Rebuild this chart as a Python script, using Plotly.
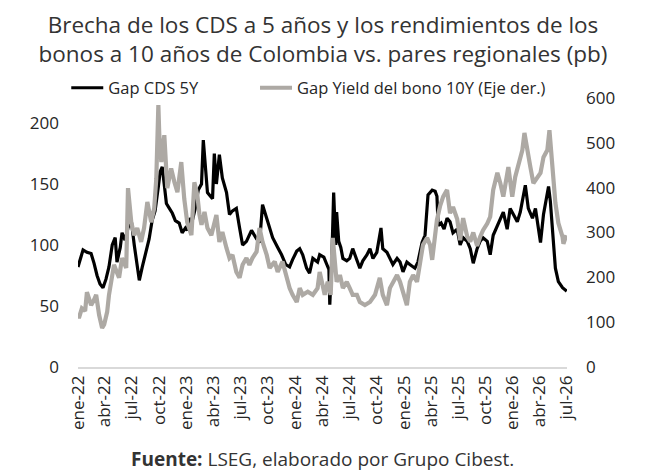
import plotly.graph_objects as go

cds_dates = ["2022-01-01","2022-01-08","2022-01-18","2022-01-31","2022-02-14","2022-02-24","2022-03-06","2022-03-16","2022-03-26","2022-04-05","2022-04-15","2022-04-26","2022-05-06","2022-05-12","2022-05-23","2022-05-29","2022-06-08","2022-06-18","2022-06-29","2022-07-09","2022-07-19","2022-07-26","2022-08-05","2022-08-18","2022-08-28","2022-09-07","2022-09-17","2022-09-28","2022-10-04","2022-10-11","2022-10-18","2022-10-25","2022-11-04","2022-11-14","2022-11-24","2022-12-07","2022-12-17","2022-12-28","2023-01-03","2023-01-13","2023-01-20","2023-01-30","2023-02-09","2023-02-20","2023-02-26","2023-03-05","2023-03-12","2023-03-22","2023-03-29","2023-04-04","2023-04-11","2023-04-21","2023-05-01","2023-05-15","2023-05-25","2023-06-04","2023-06-17","2023-06-28","2023-07-08","2023-07-21","2023-08-07","2023-08-24","2023-09-03","2023-09-13","2023-09-27","2023-10-07","2023-10-17","2023-11-03","2023-11-16","2023-11-30","2023-12-13","2023-12-23","2024-01-06","2024-01-16","2024-01-26","2024-02-08","2024-02-18","2024-02-29","2024-03-16","2024-03-23","2024-04-06","2024-04-16","2024-04-23","2024-04-26","2024-05-03","2024-05-09","2024-05-16","2024-05-19","2024-05-26","2024-06-02","2024-06-09","2024-06-22","2024-07-02","2024-07-12","2024-07-26","2024-08-05","2024-08-15","2024-08-29","2024-09-08","2024-09-18","2024-10-01","2024-10-15","2024-10-21","2024-11-04","2024-11-14","2024-11-24","2024-12-08","2024-12-18","2024-12-28","2025-01-10","2025-01-20","2025-02-06","2025-02-16","2025-03-02","2025-03-12","2025-03-22","2025-04-05","2025-04-15","2025-04-21","2025-04-25","2025-05-05","2025-05-15","2025-05-25","2025-06-04","2025-06-14","2025-06-28","2025-07-08","2025-07-18","2025-08-01","2025-08-11","2025-08-21","2025-09-03","2025-09-13","2025-09-23","2025-10-07","2025-10-17","2025-10-27","2025-11-10","2025-11-20","2025-11-30","2025-12-13","2025-12-23","2026-01-03","2026-01-16","2026-01-26","2026-02-12","2026-02-22","2026-03-08","2026-03-18","2026-04-04","2026-04-14","2026-05-01","2026-05-07","2026-05-17","2026-05-24","2026-06-03","2026-06-17","2026-06-27","2026-06-30"]
cds_vals = [82,88,96,94,93,85,75,68,65,72,82,100,106,86,98,110,104,114,120,100,85,71,82,96,105,120,128,148,160,164,150,134,130,126,120,118,110,114,112,122,120,130,145,150,186,168,143,140,138,175,150,174,155,143,125,128,130,114,100,103,112,105,102,133,122,114,106,98,92,84,82,88,95,97,92,81,77,89,86,92,90,84,80,51,90,143,100,127,103,98,89,87,89,97,87,81,87,92,97,89,94,114,97,94,89,84,89,86,78,86,84,81,86,102,108,141,145,144,140,116,118,113,122,119,110,113,100,106,103,97,85,97,103,106,103,92,108,116,122,127,113,130,125,119,127,149,130,122,130,102,125,148,136,102,81,70,65,63,64]

yld_dates = ["2022-01-01","2022-01-04","2022-01-14","2022-01-25","2022-01-31","2022-02-07","2022-02-14","2022-02-24","2022-03-03","2022-03-13","2022-03-23","2022-03-30","2022-04-09","2022-04-15","2022-04-22","2022-05-02","2022-05-12","2022-05-19","2022-05-29","2022-06-12","2022-06-18","2022-06-29","2022-07-09","2022-07-19","2022-08-01","2022-08-11","2022-08-22","2022-09-04","2022-09-14","2022-09-21","2022-09-28","2022-10-01","2022-10-08","2022-10-18","2022-10-28","2022-11-10","2022-11-21","2022-12-01","2022-12-14","2022-12-24","2023-01-03","2023-01-17","2023-01-27","2023-02-06","2023-02-13","2023-02-20","2023-03-02","2023-03-12","2023-03-25","2023-04-11","2023-04-21","2023-05-01","2023-05-15","2023-05-25","2023-06-04","2023-06-17","2023-06-28","2023-07-08","2023-07-21","2023-07-31","2023-08-10","2023-08-24","2023-09-03","2023-09-13","2023-09-27","2023-10-07","2023-10-24","2023-11-03","2023-11-19","2023-12-03","2023-12-13","2023-12-23","2024-01-06","2024-01-16","2024-01-26","2024-02-12","2024-02-29","2024-03-16","2024-03-23","2024-04-09","2024-04-19","2024-04-29","2024-05-06","2024-05-19","2024-05-30","2024-06-09","2024-06-22","2024-07-02","2024-07-12","2024-07-26","2024-08-05","2024-08-22","2024-09-08","2024-09-25","2024-10-11","2024-10-21","2024-11-04","2024-11-14","2024-11-24","2024-12-08","2024-12-18","2024-12-28","2025-01-10","2025-01-20","2025-01-31","2025-02-13","2025-02-23","2025-03-05","2025-03-19","2025-03-29","2025-04-05","2025-04-21","2025-05-02","2025-05-12","2025-05-25","2025-06-04","2025-06-14","2025-06-28","2025-07-08","2025-07-18","2025-08-01","2025-08-11","2025-08-21","2025-09-03","2025-09-13","2025-09-23","2025-10-07","2025-10-17","2025-10-27","2025-11-10","2025-11-20","2025-11-30","2025-12-17","2025-12-30","2026-01-09","2026-01-19","2026-02-02","2026-02-09","2026-02-19","2026-03-01","2026-03-11","2026-03-24","2026-04-04","2026-04-14","2026-04-27","2026-05-04","2026-05-14","2026-05-24","2026-06-03","2026-06-17","2026-06-20","2026-06-30"]
yld_vals = [115,109,131,125,167,150,138,150,161,116,87,95,123,160,190,228,210,199,243,221,399,323,294,310,279,310,368,323,354,420,584,520,457,517,399,443,412,390,457,375,323,294,412,383,340,317,346,310,294,339,279,301,265,243,250,212,199,228,243,228,243,257,310,279,250,221,235,212,235,199,176,161,145,176,161,168,161,176,212,161,190,161,288,190,205,176,190,176,161,161,145,138,145,161,199,161,138,176,190,205,190,167,138,190,205,190,234,272,288,272,239,328,360,380,395,343,357,330,283,332,290,280,300,270,290,305,320,335,395,433,410,380,446,380,424,446,484,522,477,446,410,424,433,468,484,528,446,366,321,290,275,294]

tick_dates = ["2022-01-01","2022-04-01","2022-07-01","2022-10-01","2023-01-01","2023-04-01","2023-07-01","2023-10-01","2024-01-01","2024-04-01","2024-07-01","2024-10-01","2025-01-01","2025-04-01","2025-07-01","2025-10-01","2026-01-01","2026-04-01","2026-07-01"]
tick_labels = ["ene-22","abr-22","jul-22","oct-22","ene-23","abr-23","jul-23","oct-23","ene-24","abr-24","jul-24","oct-24","ene-25","abr-25","jul-25","oct-25","ene-26","abr-26","jul-26"]

FONT = "Open Sans"
TXT = "#262626"

fig = go.Figure()
fig.add_trace(go.Scatter(x=yld_dates, y=yld_vals, name="Gap Yield del bono 10Y (Eje der.)", mode="lines",
                         line=dict(color="#ADA9A4", width=4.2), yaxis="y2", legend="legend2"))
fig.add_trace(go.Scatter(x=cds_dates, y=cds_vals, name="Gap CDS 5Y", mode="lines",
                         line=dict(color="#000000", width=3.2), yaxis="y", legend="legend"))

leg_common = dict(orientation="h", y=1.037, yanchor="middle", font=dict(size=16.5, color=TXT),
                  bgcolor="rgba(0,0,0,0)", itemwidth=32)

fig.update_layout(
    width=646, height=474,
    margin=dict(l=78, r=79, t=98, b=107),
    paper_bgcolor="white", plot_bgcolor="white",
    font=dict(family=FONT, color=TXT, size=15),
    title=dict(text="Brecha de los CDS a 5 años y los rendimientos de los<br>bonos a 10 años de Colombia vs. pares regionales (pb)",
               x=0.5, xanchor="center", y=1 - 33/474, yanchor="middle", yref="container",
               font=dict(family=FONT, size=22.5, color="#333333")),
    showlegend=True,
    legend=dict(x=-0.024, xanchor="left", **leg_common),
    legend2=dict(x=0.362, xanchor="left", **leg_common),
    xaxis=dict(type="date", range=["2022-01-01", "2026-07-02"], tickvals=tick_dates, ticktext=tick_labels,
               tickangle=-90, showgrid=False, showline=True, linecolor="#D9D9D9", linewidth=1.5,
               ticks="", tickfont=dict(size=17, color=TXT), zeroline=False),
    yaxis=dict(range=[0, 220.5], tickvals=[0, 50, 100, 150, 200], showgrid=False, zeroline=False,
               showline=False, ticks="", tickfont=dict(size=17, color=TXT), ticklabelstandoff=18),
    yaxis2=dict(range=[0, 600], tickvals=[0, 100, 200, 300, 400, 500, 600], overlaying="y", side="right",
                showgrid=False, zeroline=False, showline=False, ticks="", tickfont=dict(size=17, color=TXT),
                ticklabelstandoff=18),
    annotations=[dict(text="<b>Fuente:</b> LSEG, elaborado por Grupo Cibest.", x=0.5, xref="paper",
                      y=-(459 - 367) / 269, yref="paper", xanchor="center", yanchor="middle",
                      showarrow=False, font=dict(size=19, color="#333333"))],
)

fig.write_html("out.html")
